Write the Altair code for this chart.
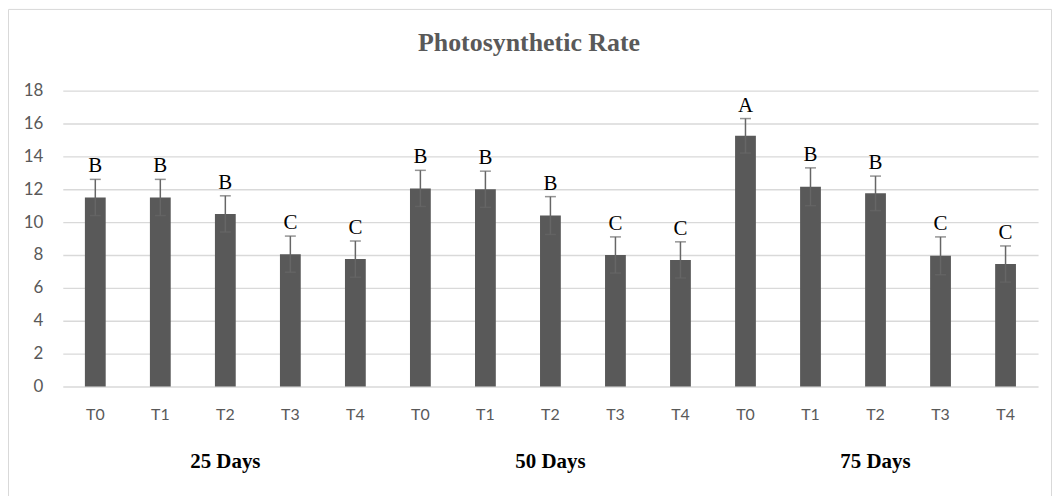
import altair as alt
import pandas as pd

groups = ["25 Days", "50 Days", "75 Days"]
treatments = ["T0", "T1", "T2", "T3", "T4"]
values = {
    "25 Days": [11.5, 11.5, 10.5, 8.05, 7.75],
    "50 Days": [12.05, 12.0, 10.4, 8.0, 7.7],
    "75 Days": [15.25, 12.15, 11.75, 7.95, 7.45],
}
errors = {
    "25 Days": [1.1, 1.1, 1.1, 1.1, 1.1],
    "50 Days": [1.1, 1.1, 1.15, 1.1, 1.1],
    "75 Days": [1.05, 1.15, 1.05, 1.15, 1.1],
}
letters = {
    "25 Days": ["B", "B", "B", "C", "C"],
    "50 Days": ["B", "B", "B", "C", "C"],
    "75 Days": ["A", "B", "B", "C", "C"],
}
y_ticks = [0, 2, 4, 6, 8, 10, 12, 14, 16, 18]

rows = []
for g in groups:
    for i, t in enumerate(treatments):
        v = values[g][i]
        e = errors[g][i]
        rows.append({"key": f"{g}|{t}", "group": g, "treat": t, "value": v,
                     "lo": v - e, "hi": v + e, "letter": letters[g][i]})
df = pd.DataFrame(rows)
order = list(df["key"])
grp_df = pd.DataFrame({"group": groups, "key": [f"{g}|T2" for g in groups]})

W, H = 979, 297
GRAY = "#595959"
ERR = "#666666"

xscale = alt.Scale(paddingInner=0.68, paddingOuter=0.34)
yscale = alt.Scale(domain=[0, 18], nice=False)
xaxis = alt.Axis(title=None, labelExpr="split(datum.label, '|')[1]",
                 labelAngle=0, ticks=False, tickSize=0, domain=False,
                 labelFontSize=16, labelColor=GRAY, labelPadding=20,
                 labelFont="Lato")
yaxis = alt.Axis(title=None, values=y_ticks, ticks=False, labelOverlap=False,
                 tickSize=0, domain=False, labelFontSize=17, labelColor=GRAY,
                 labelPadding=20, gridColor="#d9d9d9", gridWidth=1.3,
                 labelFont="Lato")


def X():
    return alt.X("key:N", sort=order, scale=xscale, axis=xaxis)


def Y(field):
    return alt.Y(field, scale=yscale, axis=yaxis)


base = alt.Chart(df)
bars = base.mark_bar(color=GRAY).encode(x=X(), y=Y("value:Q"))
rules = base.mark_rule(color=ERR, strokeWidth=1.5).encode(
    x=X(), y=Y("lo:Q"), y2="hi:Q")
caps_hi = base.mark_tick(color=ERR, thickness=1.5, size=11).encode(
    x=X(), y=Y("hi:Q"))
caps_lo = base.mark_tick(color=ERR, thickness=1.5, size=11).encode(
    x=X(), y=Y("lo:Q"))
labels = base.mark_text(font="Liberation Serif", fontSize=21, color="black",
                        baseline="alphabetic", dy=-7).encode(
    x=X(), y=Y("hi:Q"), text="letter:N")
glabels = alt.Chart(grp_df).mark_text(font="Liberation Serif", fontSize=21,
                                      fontWeight="bold", color="black",
                                      baseline="middle").encode(
    x=X(), y=alt.value(373), text="group:N")
title_df = pd.DataFrame({"t": ["Photosynthetic Rate"]})
title = alt.Chart(title_df).mark_text(font="Liberation Serif", fontSize=26,
                                      fontWeight="bold", color=GRAY,
                                      baseline="alphabetic").encode(
    x=alt.value(468), y=alt.value(-40), text="t:N")
frame = alt.Chart(title_df).mark_rect(fill=None, stroke="#d9d9d9", strokeWidth=1).encode(
    x=alt.value(-54.5), x2=alt.value(992.5), y=alt.value(-81.5), y2=alt.value(440))

chart = alt.layer(bars, rules, caps_hi, caps_lo, labels, glabels, title, frame).properties(
    width=W, height=H,
    padding={"left": 55, "top": 82, "right": 15, "bottom": 109},
    autosize=alt.AutoSizeParams(type="none"),
).configure(background="white", view=alt.ViewConfig(stroke=None))

chart.save("out.html", embed_options={"renderer": "svg", "actions": False})
